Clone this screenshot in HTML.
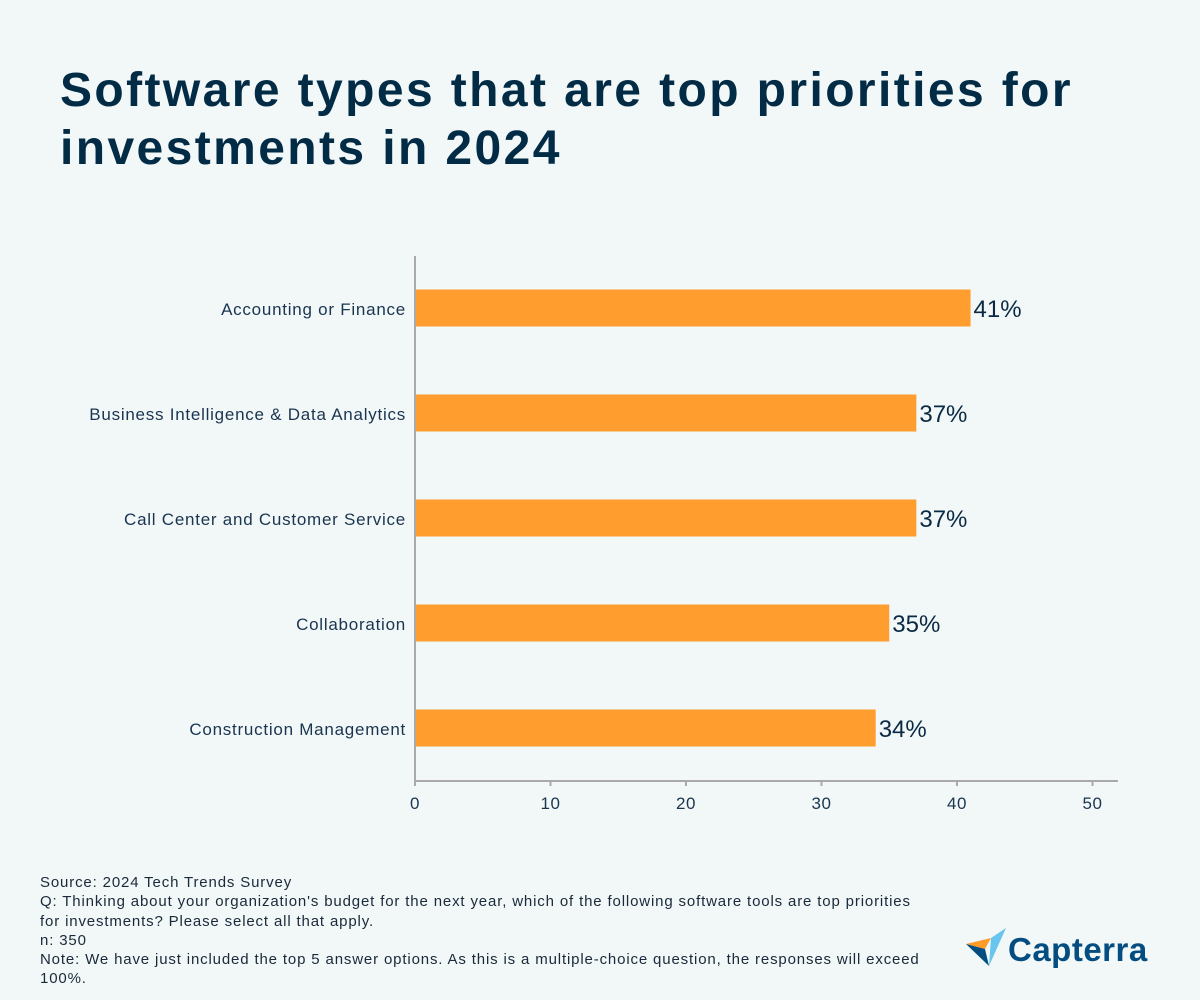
<!DOCTYPE html>
<html><head><meta charset="utf-8"><style>
body{margin:0;width:1200px;height:1000px;background:#f2f7f8;font-family:"Liberation Sans",sans-serif;overflow:hidden;position:relative;color:#0a2a44}
h1{position:absolute;left:60px;top:62px;margin:0;font-size:48px;line-height:58px;font-weight:bold;color:#022b45;width:1120px;letter-spacing:2.4px}
.notes{position:absolute;left:40px;top:873px;font-size:15px;line-height:19.3px;color:#1a2a3a;width:900px;letter-spacing:0.85px}
.logo{position:absolute;left:966px;top:926px}
</style></head><body>
<h1>Software types that are top priorities for investments in 2024</h1>
<svg id="chart" width="1200" height="1000" style="position:absolute;left:0;top:0"></svg>
<div class="notes">Source: 2024 Tech Trends Survey<br>Q: Thinking about your organization's budget for the next year, which of the following software tools are top priorities<br>for investments? Please select all that apply.<br>n: 350<br>Note: We have just included the top 5 answer options. As this is a multiple-choice question, the responses will exceed<br>100%.</div>
<svg class="logo" width="200" height="48">
<polygon points="0,18 25,12 19,23" fill="#ff9d28"/>
<polygon points="25,12 40,2 23,40" fill="#68c5ed"/>
<polygon points="0,18 19,23 23,40" fill="#044d80"/>
<text x="42" y="35" font-size="33" font-weight="bold" fill="#044d80" font-family="Liberation Sans,sans-serif" letter-spacing="0.5">Capterra</text>
</svg>
<script>
const categories=["Accounting or Finance","Business Intelligence & Data Analytics","Call Center and Customer Service","Collaboration","Construction Management"];
const values=[41,37,37,35,34];
const ticks=[0,10,20,30,40,50];
const svg=document.getElementById('chart');
const NS='http://www.w3.org/2000/svg';
const x0=415,xs=13.55,top0=256,bot=781,step=105,firstC=308,bh=37;
const X=v=>x0+v*xs;const Y=i=>firstC+i*step;
function mk(t,a,txt){const e=document.createElementNS(NS,t);for(const k in a)e.setAttribute(k,a[k]);if(txt!=null)e.textContent=txt;svg.appendChild(e);return e;}
let e=mk('line',{x1:x0,y1:top0,x2:x0,y2:bot,stroke:'#aaa','stroke-width':2});


e=mk('line',{x1:x0,y1:bot,x2:1118,y2:bot,stroke:'#aaa','stroke-width':2});


ticks.forEach(t=>{
 let l=mk('line',{x1:X(t),y1:bot,x2:X(t),y2:bot+5,stroke:'#aaa','stroke-width':2});
 
 
 let tx=mk('text',{x:X(t),y:809,'text-anchor':'middle','font-size':17,fill:'#1a3550','letter-spacing':0.5},t);
 
 
});
categories.forEach((c,i)=>{
 let r=mk('rect',{x:x0+1,y:Y(i)-bh/2,width:X(values[i])-x0-1,height:bh,fill:'#ff9d2e'});
 
 
 let lb=mk('text',{x:406,y:Y(i)+7,'text-anchor':'end','font-size':17,fill:'#1a3550','letter-spacing':0.75},c);
 
 
 let v=mk('text',{x:X(values[i])+3,y:Y(i)+9,'font-size':24,fill:'#0a2a44'},values[i]+'%');
 
 
});
</script>
</body></html>
